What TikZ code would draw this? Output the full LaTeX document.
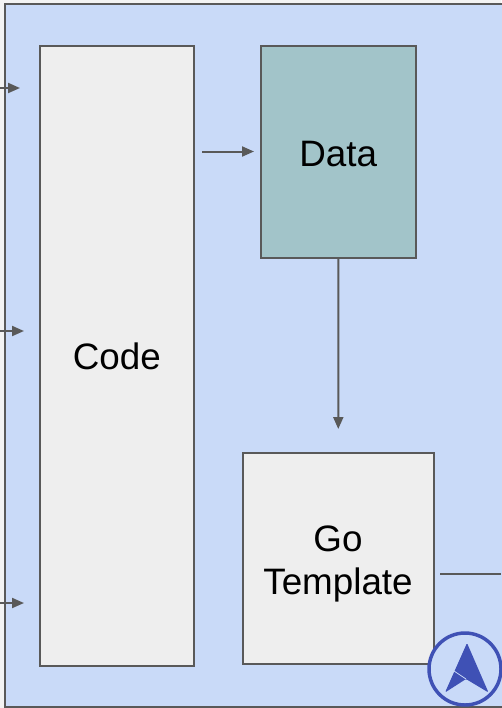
\documentclass[tikz,border=0pt]{standalone}
\usepackage{fontspec}
\setmainfont{Liberation Sans}
\usetikzlibrary{arrows.meta}
\definecolor{pagebg}{HTML}{F3F3F3}
\definecolor{panelblue}{HTML}{C9DAF8}
\definecolor{edgegray}{HTML}{595959}
\definecolor{boxgray}{HTML}{EEEEEE}
\definecolor{datateal}{HTML}{A2C4C9}
\definecolor{logoblue}{HTML}{3F51B5}
\tikzset{
  x=0.75pt,y=-0.75pt,
  panel/.style={draw=edgegray,line width=1.5pt,fill=panelblue},
  blockbox/.style={draw=edgegray,line width=1.5pt,fill=boxgray,inner sep=0pt,outer sep=0pt,anchor=north west,align=center,font=\fontsize{27.6}{32.2}\selectfont},
  datablock/.style={blockbox,fill=datateal},
  flow/.style={draw=edgegray,line width=1.5pt,-{Triangle[length=9pt,width=7.5pt]}},
  stub/.style={draw=edgegray,line width=1.5pt},
}
\begin{document}
\begin{tikzpicture}
\useasboundingbox (0,0) rectangle (501,708);
\fill[pagebg] (0,0) rectangle (501,708);
\path[panel] (5,3.5) rectangle (510,707);
\node[blockbox,minimum width=154.5*0.75pt,minimum height=620*0.75pt] (code) at (39.5,45.5) {\rule{0pt}{21.5pt}Code};
\node[datablock,minimum width=154.5*0.75pt,minimum height=212*0.75pt] (data) at (261,45.5) {\rule{0pt}{22.2pt}Data};
\node[blockbox,minimum width=191*0.75pt,minimum height=210.5*0.75pt] (tmpl) at (242.5,453) {\rule{0pt}{27.5pt}Go\\Template};
\coordinate (in1) at (0,88);
\coordinate (in1e) at (20,88);
\coordinate (in2) at (0,331);
\coordinate (in2e) at (24,331);
\coordinate (in3) at (0,603);
\coordinate (in3e) at (24,603);
\coordinate (cs) at (202,151.5);
\coordinate (ce) at (254,151.5);
\coordinate (te) at (338.3,429);
\coordinate (os) at (440,574);
\coordinate (oe) at (501,574);
\draw[flow] (in1) -- (in1e);
\draw[flow] (in2) -- (in2e);
\draw[flow] (in3) -- (in3e);
\draw[flow] (cs) -- (ce);
\draw[flow] (data.south) -- (te);
\draw[stub] (os) -- (oe);
% logo
\draw[logoblue,line width=2.6pt,fill=panelblue] (465,669) circle[radius=36];
\fill[logoblue,rounded corners=1pt] (467,643) -- (488.5,692.5) -- (466,679) -- (445,692.5) -- cycle;
\draw[panelblue,line width=0.6pt] (454,671) -- (466,679);
\end{tikzpicture}
\end{document}
